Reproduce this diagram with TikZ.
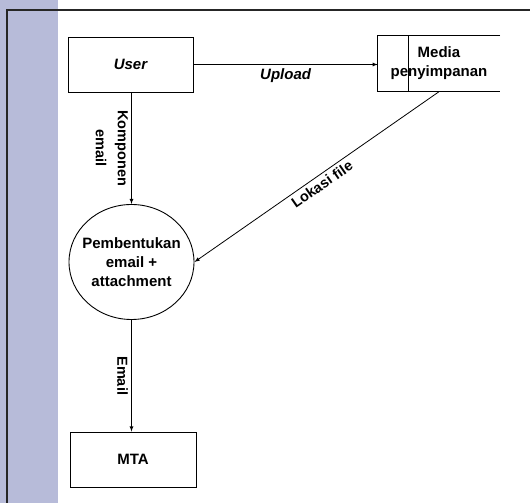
\documentclass[tikz,border=0pt]{standalone}
\usepackage{fontspec}
\setmainfont{Liberation Sans}
\usetikzlibrary{shapes.geometric}
\definecolor{lavender}{HTML}{B7BBD9}
\begin{document}
\begin{tikzpicture}[x=1pt, y=1pt, >=latex,
		font=\fontsize{15}{19}\selectfont\bfseries,
		entitas/.style={draw, line width=0.9pt, minimum width=125pt, minimum height=55pt},
		proses/.style={ellipse, draw, line width=0.9pt, minimum width=125pt, minimum height=115pt, inner sep=0pt},
		alir/.style={->, line width=0.8pt},
		keterangan/.style={align=center, font=\fontsize{14.5}{22}\selectfont\bfseries}]
		
		% Latar dan bingkai
		\useasboundingbox (0,0) rectangle (530,503);
		\fill[lavender] (0,0) rectangle (58,503);
		\draw[line width=1.5pt, black!85] (7,0) -- (7,493) -- (530,493);
		
		% Entitas User
		\node[entitas] (user) at (130.5,438.5) {\itshape User};
		
		% Media penyimpanan (sisi kanan terbuka)
		\node[minimum width=122pt, minimum height=56pt] (media) at (439,439.5) {};
		\draw[line width=0.9pt] (media.north east) -- (media.north west) -- (media.south west) -- (media.south east);
		\draw[line width=0.9pt] ([xshift=31pt]media.north west) -- ([xshift=31pt]media.south west);
		\node[align=center] (mediateks) at (439,439.5) {Media\\penyimpanan};
		
		% Proses
		\node[proses, label={[align=center]center:Pembentukan\\email +\\attachment}] (proses) at (131.5,241) {};
		
		% Entitas MTA
		\node[entitas, minimum width=126pt] (mta) at (133,43.5) {MTA};
		
		% Aliran data
		\draw[alir] (user.east) -- (user.east -| media.west) node[midway, below] {\itshape Upload};
		\draw[alir] (proses.north |- user.south) -- (proses.north) node[midway, rotate=-90, anchor=north, keterangan] {Komponen\\email};
		\draw[alir] (media.south) -- (proses.east) node[midway, sloped, below, keterangan] {Lokasi file};
		\draw[alir] (proses.south) -- (proses.south |- mta.north) node[midway, rotate=-90, anchor=north, keterangan] {Email};
		
	\end{tikzpicture}
\end{document}
